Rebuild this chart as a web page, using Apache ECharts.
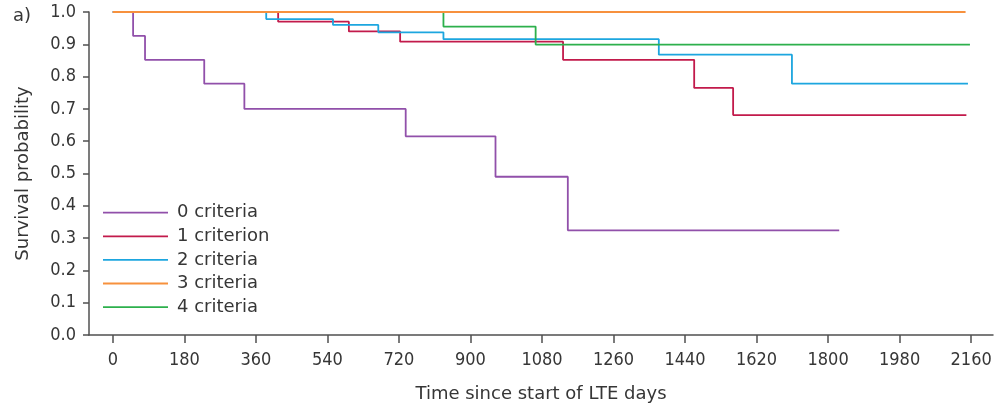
<!DOCTYPE html>
<html>
<head>
<meta charset="utf-8">
<script src="https://cdn.jsdelivr.net/npm/echarts@6/dist/echarts.min.js"></script>
<style>
html,body{margin:0;padding:0;background:#fff;}
#chart{width:1008px;height:408px;}
</style>
</head>
<body>
<div id="chart"></div>
<script>
// Series names
const seriesNames = ['0 criteria', '1 criterion', '2 criteria', '3 criteria', '4 criteria'];
// Kaplan-Meier step points (days, survival)
const crit0Days = [0, 51, 81, 230, 331, 737, 963, 1145, 1828];
const crit0Surv = [1.0, 0.926, 0.852, 0.778, 0.700, 0.615, 0.490, 0.324, 0.324];
const crit1Days = [0, 416, 594, 723, 1133, 1463, 1561, 2148];
const crit1Surv = [1.0, 0.970, 0.940, 0.908, 0.852, 0.765, 0.681, 0.681];
const crit2Days = [0, 386, 554, 668, 832, 1374, 1709, 2152];
const crit2Surv = [1.0, 0.978, 0.960, 0.937, 0.916, 0.868, 0.778, 0.778];
const crit3Days = [0, 2146];
const crit3Surv = [1.0, 1.0];
const crit4Days = [0, 832, 1064, 2157];
const crit4Surv = [1.0, 0.955, 0.899, 0.899];
// Axis ticks
const xTicks = [0, 180, 360, 540, 720, 900, 1080, 1260, 1440, 1620, 1800, 1980, 2160];

const colors = ['#9150AA', '#C21A4B', '#1DA6DF', '#F7913D', '#2DB04C'];
const zOrder = [2, 3, 4, 6, 5];

function pairs(d, s) { return d.map((x, i) => [x, s[i]]); }
const allDays = [crit0Days, crit1Days, crit2Days, crit3Days, crit4Days];
const allSurv = [crit0Surv, crit1Surv, crit2Surv, crit3Surv, crit4Surv];

const textColor = '#363636';
const axisColor = '#505050';

const chart = echarts.init(document.getElementById('chart'), null, {renderer: 'canvas'});
chart.setOption({
  animation: false,
  backgroundColor: '#ffffff',
  grid: {left: 89, right: 15, top: 12, bottom: 73, containLabel: false},
  graphic: [{
    type: 'text', left: 13, top: 7,
    style: {text: 'a)', fontFamily: 'DejaVu Sans', fontSize: 18, fill: textColor}
  }],
  legend: {
    orient: 'vertical', left: 103, top: 201.7, padding: 0,
    icon: 'rect', itemWidth: 65, itemHeight: 1.8, itemGap: 1.6,
    data: seriesNames,
    textStyle: {fontFamily: 'DejaVu Sans', fontSize: 18, color: textColor, lineHeight: 22, padding: [0, 0, 0, 4]}
  },
  xAxis: {
    type: 'value', min: -60, max: 2215,
    name: 'Time since start of LTE days', nameLocation: 'middle', nameGap: 50,
    nameTextStyle: {fontFamily: 'DejaVu Sans', fontSize: 18, color: textColor},
    axisLine: {show: true, onZero: false, lineStyle: {color: axisColor, width: 1.5}},
    axisTick: {show: true, inside: false, length: 8, customValues: xTicks, lineStyle: {color: axisColor, width: 1.5}},
    axisLabel: {customValues: xTicks, margin: 16, fontFamily: 'DejaVu Sans Condensed', fontSize: 18, color: textColor,
      formatter: v => String(v)},
    splitLine: {show: false}
  },
  yAxis: {
    type: 'value', min: 0, max: 1, interval: 0.1,
    name: 'Survival probability', nameLocation: 'middle', nameGap: 57, nameRotate: 90,
    nameTextStyle: {fontFamily: 'DejaVu Sans', fontSize: 18, color: textColor},
    axisLine: {show: true, onZero: false, lineStyle: {color: axisColor, width: 1.5}},
    axisTick: {show: true, inside: false, length: 6, lineStyle: {color: axisColor, width: 1.5}},
    axisLabel: {margin: 13, fontFamily: 'DejaVu Sans Condensed', fontSize: 18, color: textColor,
      formatter: v => v.toFixed(1)},
    splitLine: {show: false}
  },
  series: seriesNames.map((name, i) => ({
    name: name,
    type: 'line',
    step: 'end',
    showSymbol: false,
    symbol: 'none',
    z: zOrder[i],
    color: colors[i],
    lineStyle: {color: colors[i], width: 1.8},
    data: pairs(allDays[i], allSurv[i])
  }))
});
</script>
</body>
</html>
